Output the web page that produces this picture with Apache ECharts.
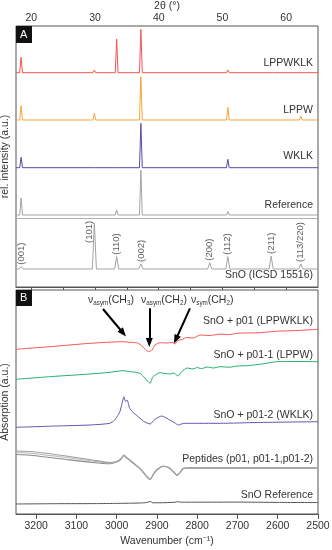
<!DOCTYPE html>
<html><head><meta charset="utf-8">
<script src="https://cdn.jsdelivr.net/npm/echarts@6/dist/echarts.min.js"></script>
<style>html,body{margin:0;padding:0;background:#fff}#c{width:332px;height:550px}</style>
</head><body><div id="c"></div>
<script>
// ---------- DATA: panel A (XRD) ----------
const xrdPeaks = [18.4, 29.9, 33.4, 37.2, 48.0, 50.85, 57.65, 62.3];
const xrdPeakLabels = ['(001)', '(101)', '(110)', '(002)', '(200)', '(112)', '(211)', '(113/220)'];
const xrdSamples = ['LPPWKLK', 'LPPW', 'WKLK', 'Reference', 'SnO (ICSD 15516)'];
const xrdBaselines = [214.3, 167, 119.3, 72, 18];
const lppwklkHeights = [15.4, 2.7, 33.7, 43.4, 0, 2.7, 1, 0];
const lppwHeights = [14.3, 6.7, 1.7, 43.5, 0.6, 12.7, 0.6, 4];
const wklkHeights = [10.4, 1, 1.5, 44.4, 0, 8.4, 0, 0];
const referenceHeights = [17, 0, 5, 45, 0, 3.5, 0, 0];
const icsdHeights = [2.3, 46, 12.3, 5, 6.3, 12.3, 13, 5];
const xrdSeparator = 69;

// ---------- DATA: panel B (IR) ----------
const irSamples = ['SnO + p01 (LPPWKLK)', 'SnO + p01-1 (LPPW)', 'SnO + p01-2 (WKLK)', 'Peptides (p01, p01-1,p01-2)', 'SnO Reference'];
const irP01 = [[3250,164.7],[3160,167.5],[3066,170.7],[2984,172.3],[2965,171.6],[2950,171.2],[2940,169],[2930,165],[2921,162.3],[2912,164],[2905,169],[2892,171.3],[2875,171],[2862,171.6],[2855,170],[2848,173.3],[2838,174.5],[2826,176.5],[2810,176],[2793,179],[2770,178.5],[2743,179.8],[2720,179.4],[2700,180.8],[2650,181.2],[2600,182.8],[2550,183.5],[2500,184.7]];
const irP01_1 = [[3250,134.7],[3160,137.5],[3066,140],[3017,141.7],[2984,143.3],[2960,142],[2942,140.7],[2930,136],[2917,130.7],[2910,137.3],[2892,141.3],[2880,140.5],[2868,140],[2858,141],[2848,138],[2838,142.5],[2825,146],[2810,145],[2800,146.5],[2790,145.3],[2775,147],[2760,146],[2743,147.3],[2720,146.8],[2700,148],[2676,148.3],[2640,150],[2602,152.3],[2550,152.5],[2500,152.3]];
const irP01_2 = [[3250,86.7],[3150,88],[3066,89],[3017,90.7],[3005,94],[2999,97.3],[2992,102.3],[2987,110],[2982,117.3],[2978,112.5],[2974,114],[2968,106],[2961,102.3],[2950,98.5],[2942,95.7],[2930,92],[2917,90],[2905,94.7],[2888,98],[2868,94],[2855,91],[2847,89],[2835,90.5],[2826,90.7],[2743,90.7],[2650,91.5],[2500,92.3]];
const irPep1 = [[3250,63],[3208,62.3],[3125,58],[3060,54],[3017,51.5],[3000,52.5],[2990,55],[2982,59],[2975,56.5],[2967,54],[2955,50],[2942,45.7],[2930,40],[2917,34.7],[2908,40.5],[2901,44],[2885,48],[2870,46.5],[2858,42],[2850,39],[2842,42],[2835,45.7],[2820,46.3],[2700,46.3],[2500,46.3]];
const irPep2 = [[3250,61.5],[3208,60.5],[3125,56.5],[3060,53],[3017,51],[3000,52.3],[2990,54.8],[2982,58.6],[2975,56.2],[2967,53.7],[2955,49.7],[2942,45.4],[2930,39.8],[2917,34.5],[2908,40.3],[2901,43.8],[2885,47.7],[2870,46.2],[2858,41.8],[2850,38.8],[2842,41.8],[2835,45.5],[2820,46.1],[2700,46.1],[2500,46.1]];
const irPep3 = [[3250,59.5],[3208,58.5],[3125,54.5],[3060,51.5],[3017,50.3],[3000,52],[2990,54.5],[2982,58.3],[2975,56],[2967,53.5],[2955,49.5],[2942,45.2],[2930,39.6],[2917,34.3],[2908,40.1],[2901,43.6],[2885,47.5],[2870,46],[2858,41.6],[2850,38.6],[2842,41.6],[2835,45.3],[2820,45.9],[2700,45.9],[2500,45.9]];
const irSnORef = [[3250,10],[3150,10.3],[3050,10.4],[3000,10.6],[2942,11],[2925,11.5],[2917,12.6],[2910,11.2],[2880,11.3],[2855,11.8],[2848,12.3],[2840,11.8],[2800,11.8],[2700,11.9],[2600,11.6],[2500,11.4]];
const irArrows = [[[3034,205],[2984,181]],[[2919,205.7],[2919,171.5]],[[2818,205.7],[2853,174.5]]];

// ---------- helpers ----------
const FONT = "'Liberation Sans', Arial, sans-serif";
const TXT = '#333';
function pattern(base, heights, hw) {
  const pts = [[17.6, base]];
  xrdPeaks.forEach((p, i) => {
    if (heights[i] > 0) { pts.push([p - hw, base], [p, base + heights[i]], [p + hw, base]); }
  });
  pts.push([65, base]);
  return pts;
}
const xrdColors = ['#f8524f', '#f7a33a', '#5a48a3', '#a3a3a3', '#a3a3a3'];
const xrdHeights = [lppwklkHeights, lppwHeights, wklkHeights, referenceHeights, icsdHeights];

const chart = echarts.init(document.getElementById('c'), null, {renderer: 'canvas'});
const series = [];
xrdHeights.forEach((h, i) => {
  series.push({
    type: 'line', xAxisIndex: 0, yAxisIndex: 0, name: xrdSamples[i],
    data: pattern(xrdBaselines[i], h, i === 4 ? 0.32 : 0.22),
    symbol: 'none', lineStyle: {color: xrdColors[i], width: 1}, silent: true,
    markLine: i === 4 ? {silent: true, symbol: 'none', label: {show: false},
      lineStyle: {color: '#b0b0b0', width: 1, type: 'solid'}, data: [{yAxis: xrdSeparator}]} : undefined
  });
});
// peak labels of ICSD pattern
series.push({
  type: 'scatter', xAxisIndex: 0, yAxisIndex: 0, symbolSize: 0, silent: true,
  data: xrdPeaks.map((p, i) => {
    const item = {value: [p, xrdBaselines[4] + icsdHeights[i]], name: xrdPeakLabels[i]};
    if (i === 1) item.label = {offset: [-22, -5]};
    return item;
  }),
  label: {show: true, formatter: '{b}', position: 'top', rotate: 90, align: 'left', verticalAlign: 'middle',
    distance: 2, fontSize: 9.5, fontFamily: FONT, color: TXT}
});
const irColors = ['#f8524f', '#1fae6e', '#6a51ad', '#8a8a8a', '#b8b8b8', '#a0a0a0', '#555'];
const irData = [irP01, irP01_1, irP01_2, irPep3, irPep2, irPep1, irSnORef];
irData.forEach((d, i) => {
  series.push({
    type: 'line', xAxisIndex: 1, yAxisIndex: 1, data: d, symbol: 'none', silent: true,
    smooth: 0.2, lineStyle: {color: irColors[i], width: i >= 3 && i <= 5 ? 1.1 : 1}
  });
});
series.push({
  type: 'line', xAxisIndex: 1, yAxisIndex: 1, data: [], symbol: 'none', silent: true,
  markLine: {silent: true, symbol: ['none', 'triangle'], symbolSize: [7, 9], label: {show: false},
    lineStyle: {color: '#000', width: 2, type: 'solid'},
    data: irArrows.map(a => [{coord: a[0]}, {coord: a[1]}])}
});

const rightLabel = (text, y) => ({type: 'text', right: 19, top: y - 7,
  style: {text, fill: TXT, font: '10.5px ' + FONT, textAlign: 'right'}});
const rich = {
  n: {fontSize: 10.5, fontFamily: FONT, color: TXT, verticalAlign: 'middle'},
  s: {fontSize: 6.3, fontFamily: FONT, color: TXT, verticalAlign: 'bottom', padding: [6, 0, 0, 0]}
};
const annot = (sub, grp, sub2, x) => ({type: 'text', left: x, top: 295,
  style: {rich, text: '{n|ν}{s|' + sub + '}{n|(' + grp + '}{s|' + sub2 + '}{n|)}', fill: TXT}});

chart.setOption({
  animation: false,
  textStyle: {fontFamily: FONT},
  grid: [
    {left: 16, right: 14, top: 26, height: 261, show: true, borderColor: '#555', borderWidth: 1, outerBoundsMode: 'none', containLabel: false},
    {left: 16, right: 14, top: 290, height: 224, show: true, borderColor: '#555', borderWidth: 1, outerBoundsMode: 'none', containLabel: false}
  ],
  xAxis: [
    {gridIndex: 0, type: 'value', position: 'top', min: 17.6, max: 65,
      name: '2θ (°)', nameLocation: 'middle', nameGap: 13,
      nameTextStyle: {fontSize: 10.5, color: TXT, fontFamily: FONT},
      axisLine: {show: true, lineStyle: {color: '#555'}},
      axisTick: {show: true, inside: true, length: 3, lineStyle: {color: '#555'}, customValues: [20,25,30,35,40,45,50,55,60]},
      axisLabel: {show: true, margin: 2, fontSize: 10.5, color: TXT, customValues: [20,30,40,50,60]},
      splitLine: {show: false}},
    {gridIndex: 1, type: 'value', inverse: true, min: 2500, max: 3250, interval: 100,
      name: 'Wavenumber (cm⁻¹)', nameLocation: 'middle', nameGap: 22,
      nameTextStyle: {fontSize: 10.5, color: TXT, fontFamily: FONT},
      axisLine: {show: true, lineStyle: {color: '#555'}},
      axisTick: {show: true, inside: false, length: 5, lineStyle: {color: '#555'}},
      axisLabel: {show: true, margin: 7, fontSize: 10.5, color: TXT, showMaxLabel: false, showMinLabel: true,
        formatter: v => String(v)},
      splitLine: {show: false}}
  ],
  yAxis: [
    {gridIndex: 0, type: 'value', min: 0, max: 261, name: 'rel. intensity (a.u.)', nameLocation: 'middle',
      nameGap: 5, nameRotate: 90, nameTextStyle: {fontSize: 10.5, color: TXT, fontFamily: FONT},
      axisLine: {show: false}, axisTick: {show: false}, axisLabel: {show: false}, splitLine: {show: false}},
    {gridIndex: 1, type: 'value', min: 0, max: 224, name: 'Absorption (a.u.)', nameLocation: 'middle',
      nameGap: 5, nameRotate: 90, nameTextStyle: {fontSize: 10.5, color: TXT, fontFamily: FONT},
      axisLine: {show: false}, axisTick: {show: false}, axisLabel: {show: false}, splitLine: {show: false}}
  ],
  series,
  graphic: [
    {type: 'rect', left: 16, top: 26, shape: {width: 16, height: 17}, style: {fill: '#111'}},
    {type: 'text', left: 20, top: 29, style: {text: 'A', fill: '#fff', font: '11px ' + FONT}},
    {type: 'rect', left: 16, top: 290, shape: {width: 16, height: 16}, style: {fill: '#111'}},
    {type: 'text', left: 20, top: 292, style: {text: 'B', fill: '#fff', font: '11px ' + FONT}},
    rightLabel(xrdSamples[0], 65), rightLabel(xrdSamples[1], 112), rightLabel(xrdSamples[2], 158),
    rightLabel(xrdSamples[3], 207), rightLabel(xrdSamples[4], 277),
    rightLabel(irSamples[0], 323), rightLabel(irSamples[1], 357), rightLabel(irSamples[2], 417),
    rightLabel(irSamples[3], 461), rightLabel(irSamples[4], 497),
    annot('asym', 'CH', '3', 88), annot('asym', 'CH', '2', 141), annot('sym', 'CH', '2', 191)
  ]
});
</script></body></html>
